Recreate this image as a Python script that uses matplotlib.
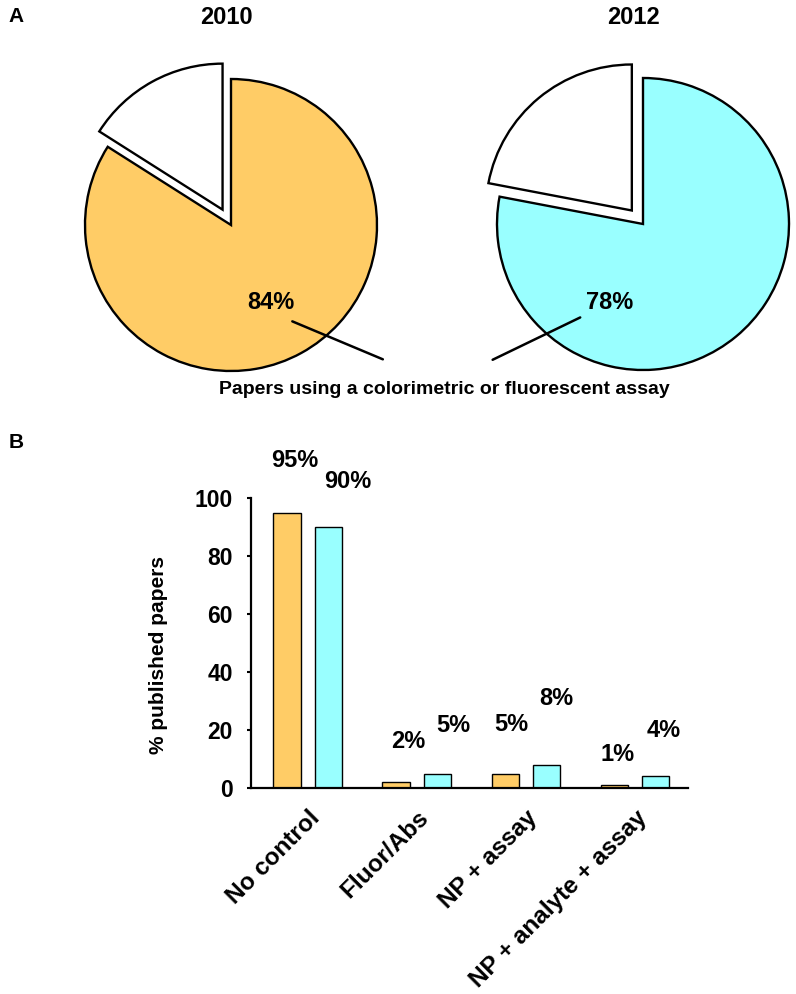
import matplotlib
matplotlib.use('Agg')
import matplotlib.pyplot as plt
import matplotlib.transforms as mtransforms
import numpy as np

plt.rcParams['font.family'] = ['Liberation Sans', 'DejaVu Sans']
plt.rcParams['font.weight'] = 'bold'
plt.rcParams['axes.labelweight'] = 'bold'

# panel A: share of papers using a colorimetric or fluorescent assay
years = ['2010', '2012']
assay_share = [84, 78]
year_colors = ['#FFCC66', '#99FFFF']

# panel B: controls reported
categories = ['No control', 'Fluor/Abs', 'NP + assay', 'NP + analyte + assay']
pct_2010 = [95, 2, 5, 1]
pct_2012 = [90, 5, 8, 4]

W, H = 796, 994
fig = plt.figure(figsize=(W / 100, H / 100), dpi=100)

# --- pies ---
pie_centers = [(231, 225), (643, 224)]   # px
title_x = [226, 633]
R = 146
lim = 1.15
pct_pos = [(0.27, -0.53), (-0.23, -0.54)]
leader = [((0.42, -0.66), (1.04, -0.92)), ((-0.43, -0.64), (-1.03, -0.93))]

for i in range(2):
    cx, cy = pie_centers[i]
    size = 2 * lim * R
    ax = fig.add_axes([(cx - lim * R) / W, 1 - (cy + lim * R) / H, size / W, size / H])
    share = assay_share[i]
    ax.pie([share, 100 - share], colors=[year_colors[i], 'white'], startangle=90,
           counterclock=False, explode=[0, 0.12],
           wedgeprops=dict(edgecolor='black', linewidth=1.7))
    ax.set_xlim(-lim, lim)
    ax.set_ylim(-lim, lim)
    ax.set_aspect('equal')
    ax.axis('off')
    ax.text(pct_pos[i][0], pct_pos[i][1], f'{share}%', ha='center', va='center', fontsize=17)
    ax.annotate('', xy=leader[i][1], xytext=leader[i][0], annotation_clip=False,
                arrowprops=dict(arrowstyle='-', lw=1.8, color='black', shrinkA=0, shrinkB=0))
    fig.text(title_x[i] / W, 1 - 17 / H, years[i], ha='center', va='center', fontsize=17)

fig.text(444 / W, 1 - 390 / H, 'Papers using a colorimetric or fluorescent assay',
         ha='center', va='center', fontsize=14)
fig.text(16 / W, 1 - 16 / H, 'A', ha='center', va='center', fontsize=15)
fig.text(16 / W, 1 - 443 / H, 'B', ha='center', va='center', fontsize=15)

# --- bars ---
ax = fig.add_axes([251 / W, 1 - 788 / H, 437 / W, 290 / H])
x = np.arange(len(categories))
bw = 0.25
off = 0.19
ax.bar(x - off, pct_2010, bw, color=year_colors[0], edgecolor='black', linewidth=1)
ax.bar(x + off, pct_2012, bw, color=year_colors[1], edgecolor='black', linewidth=1)

# hand-placed value labels (offset from bar centre, height in data units)
lbl_dx_2010 = [0.07, 0.11, 0.06, 0.03]
lbl_dx_2012 = [0.18, 0.14, 0.09, 0.07]
lbl_y_2010 = [112.8, 15.9, 22.0, 11.7]
lbl_y_2012 = [105.6, 21.4, 30.7, 19.7]
for i in range(len(categories)):
    ax.text(x[i] - off + lbl_dx_2010[i], lbl_y_2010[i], f'{pct_2010[i]}%',
            ha='center', va='center', fontsize=17, clip_on=False)
    ax.text(x[i] + off + lbl_dx_2012[i], lbl_y_2012[i], f'{pct_2012[i]}%',
            ha='center', va='center', fontsize=17, clip_on=False)

ax.set_xlim(-0.52, 3.485)
ax.set_ylim(0, 100)
ax.set_yticks(range(0, 101, 20))
ax.set_xticks(x)
ax.set_xticklabels(categories, rotation=45, ha='right', rotation_mode='anchor', fontsize=17.5)
shift = mtransforms.ScaledTranslation(-7 / 100, 2 / 100, fig.dpi_scale_trans)
for lab in ax.get_xticklabels():
    lab.set_transform(lab.get_transform() + shift)
ax.tick_params(axis='x', length=0, pad=13)
ax.tick_params(axis='y', length=3, width=1.5, pad=10, labelsize=16.5)
for s in ['top', 'right']:
    ax.spines[s].set_visible(False)
for s in ['left', 'bottom']:
    ax.spines[s].set_linewidth(1.6)
ax.set_ylabel('% published papers', fontsize=15)
ax.yaxis.set_label_coords(-0.19, 0.459)

fig.savefig('out.png', dpi=100)
